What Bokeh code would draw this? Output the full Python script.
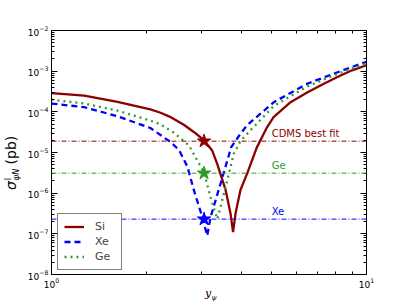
from bokeh.plotting import figure
from bokeh.layouts import row, column
from bokeh.models import (LogAxis, FixedTicker, Span, Label, Legend, LegendItem, Range1d,
                          LogTickFormatter, CustomJSTickFormatter, Div)
from bokeh.embed import file_html
from bokeh.resources import INLINE

# ---- data ----
si_x = [1.0, 1.27, 1.62, 2.06, 2.22, 2.40, 2.63, 2.83, 3.05, 3.24, 3.36, 3.57, 3.70, 3.77, 3.84,
        3.98, 4.19, 4.48, 4.81, 5.07, 5.74, 6.48, 7.32, 8.27, 9.0, 10.0]
si_y = [2.9e-4, 2.5e-4, 1.75e-4, 1.15e-4, 9.5e-5, 7.3e-5, 4.8e-5, 3.2e-5, 2.0e-5, 1.1e-5, 5.2e-6,
        1.2e-6, 3.2e-7, 1.1e-7, 3.2e-7, 1.2e-6, 3.2e-6, 1.3e-5, 3.9e-5, 7.4e-5, 1.73e-4, 3.0e-4,
        4.9e-4, 7.8e-4, 1.05e-3, 1.4e-3]

xe_x = [1.0, 1.27, 1.62, 2.06, 2.39, 2.54, 2.70, 2.83, 3.01, 3.12, 3.20, 3.44, 3.72, 3.98, 4.18,
        5.08, 6.48, 8.27, 10.0]
xe_y = [1.6e-4, 1.3e-4, 7.8e-5, 4.0e-5, 1.8e-5, 1.15e-5, 4.5e-6, 1.2e-6, 2.6e-7, 9e-8, 2.6e-7,
        1.7e-6, 1.35e-5, 2.9e-5, 4.7e-5, 1.73e-4, 4.9e-4, 1.0e-3, 1.7e-3]

ge_x = [1.0, 1.27, 1.62, 2.06, 2.22, 2.44, 2.73, 3.05, 3.20, 3.36, 3.44, 3.61, 3.79, 3.98, 4.28,
        5.08, 6.48, 8.27, 10.0]
ge_y = [2.0e-4, 1.6e-4, 1.07e-4, 6.1e-5, 4.9e-5, 3.1e-5, 1.5e-5, 3.2e-6, 7.9e-7, 2.3e-7, 4.6e-7,
        2.0e-6, 9.3e-6, 1.9e-5, 3.5e-5, 1.4e-4, 4.2e-4, 9.2e-4, 1.55e-3]

ref_names = ["CDMS best fit", "Ge", "Xe"]
ref_levels = [1.9e-5, 3.1e-6, 2.3e-7]
star_x = [3.05, 3.05, 3.05]

x_major = [1, 10]
x_minor = [2, 3, 4, 5, 6, 7, 8, 9]
y_major = [1e-8, 1e-7, 1e-6, 1e-5, 1e-4, 1e-3, 1e-2]
y_minor = [m * 10.0 ** e for e in range(-8, -2) for m in range(2, 10)]

SI_C = "#8B0000"
XE_C = "#0000FF"
GE_C = "#2E9B2E"
ref_colors = [SI_C, GE_C, XE_C]

FONT = "DejaVu Sans"

p = figure(width=387, height=290, x_axis_type="log", y_axis_type="log",
           x_range=Range1d(1, 10), y_range=Range1d(1e-8, 1e-2),
           output_backend="svg", toolbar_location=None,
           min_border_left=31, min_border_right=41, min_border_top=30, min_border_bottom=16)
p.xgrid.visible = False
p.ygrid.visible = False
p.outline_line_color = "black"
p.outline_line_width = 1
p.background_fill_color = "white"
p.border_fill_color = "white"

blank = CustomJSTickFormatter(code="return '';")

def style_axis(ax, ticker, labels=True):
    ax.ticker = ticker
    ax.major_tick_in = 6
    ax.major_tick_out = 0
    ax.minor_tick_in = 3
    ax.minor_tick_out = 0
    ax.axis_line_color = "black"
    ax.major_tick_line_color = "black"
    ax.minor_tick_line_color = "black"
    ax.major_label_text_font = FONT
    ax.major_label_text_font_size = "9px"
    ax.major_label_text_color = "black"
    ax.major_label_standoff = 3
    if labels:
        ax.formatter = LogTickFormatter()
    else:
        ax.formatter = blank
        ax.major_label_standoff = 0

for ax in p.xaxis:
    style_axis(ax, FixedTicker(ticks=x_major, minor_ticks=x_minor))
for ax in p.yaxis:
    style_axis(ax, FixedTicker(ticks=y_major, minor_ticks=y_minor))

top = LogAxis()
right = LogAxis()
style_axis(top, FixedTicker(ticks=x_major, minor_ticks=x_minor), labels=False)
style_axis(right, FixedTicker(ticks=y_major, minor_ticks=y_minor), labels=False)
p.add_layout(top, "above")
p.add_layout(right, "right")

# reference levels
for lev, col in zip(ref_levels, ref_colors):
    p.add_layout(Span(location=lev, dimension="width", line_color=col, line_width=1,
                      line_dash="5 2 1 2"))

r_si = p.line(si_x, si_y, line_color=SI_C, line_width=2.3)
r_xe = p.line(xe_x, xe_y, line_color=XE_C, line_width=2.3, line_dash="6 4")
r_ge = p.line(ge_x, ge_y, line_color=GE_C, line_width=2.3, line_dash="2 4")

p.scatter(star_x, ref_levels, marker="star", size=14, fill_color=ref_colors,
          line_color=ref_colors)

for name, lev, col in zip(ref_names, ref_levels, ref_colors):
    p.add_layout(Label(x=5.0, y=lev * 1.15, text=name, text_color=col, text_font=FONT,
                       text_font_size="10px", text_baseline="bottom", text_align="left"))

legend = Legend(items=[LegendItem(label="Si", renderers=[r_si]),
                       LegendItem(label="Xe", renderers=[r_xe]),
                       LegendItem(label="Ge", renderers=[r_ge])],
                location=(6, 4), border_line_color="black", border_line_width=1,
                background_fill_color="white", background_fill_alpha=1,
                label_text_font=FONT, label_text_font_size="11px",
                glyph_width=20, glyph_height=13, label_height=13, label_standoff=11,
                spacing=2, padding=6, margin=0)
p.add_layout(legend, "center")

# axis labels with sub/superscripts as HTML text
ylab_html = (
    '<div style="position:relative;width:20px;height:305px;">'
    '<div style="position:absolute;left:4px;top:190px;transform:rotate(-90deg);'
    'transform-origin:0 0;white-space:nowrap;line-height:15px;color:black;">'
    '<span style="font-family:\'DejaVu Sans\';font-style:italic;font-size:14px;">σ</span>'
    '<span style="display:inline-block;vertical-align:middle;line-height:8px;'
    'font-family:\'DejaVu Sans\';font-size:8px;margin-left:1px;">'
    '<span style="display:block;">I</span>'
    '<span style="display:block;font-style:italic;">ψN</span></span>'
    '<span style="font-family:\'DejaVu Sans\';font-size:14px;"> (pb)</span>'
    '</div></div>'
)
xlab_html = (
    '<div style="position:relative;width:387px;height:15px;">'
    '<div style="position:absolute;left:185px;top:-3px;white-space:nowrap;line-height:12px;'
    'font-family:\'DejaVu Serif\';font-style:italic;color:black;">'
    '<span style="font-size:11px;">y</span>'
    '<span style="font-size:7px;position:relative;top:3px;">ψ</span>'
    '</div></div>'
)

ydiv = Div(text=ylab_html, width=20, height=305, margin=0)
xdiv = Div(text=xlab_html, width=387, height=15, margin=0)

layout = row(ydiv, column(p, xdiv, spacing=0), spacing=0)

open("out.html", "w").write(file_html(layout, INLINE))
